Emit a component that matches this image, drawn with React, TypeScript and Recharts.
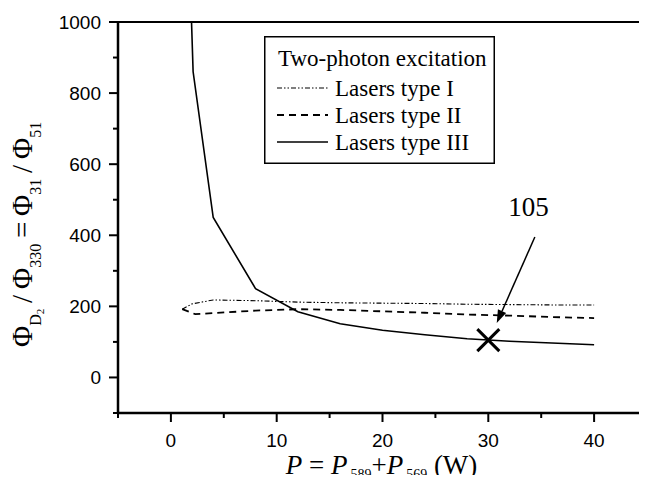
import React from 'react';
import {
  LineChart,
  Line,
  XAxis,
  YAxis,
  Legend,
  ReferenceLine,
  ReferenceDot,
} from 'recharts';

// Lasers type I (dash-dot-dot)
const powerI = [1.07, 2, 4, 8, 12, 16, 20, 24, 28, 32, 36, 40];
const ratioI = [192, 207, 218, 216, 212, 210, 209, 208, 206, 205, 204, 204];

// Lasers type II (dashed)
const powerII = [1.07, 2.3, 4, 8, 12, 16, 20, 24, 28, 32, 36, 40];
const ratioII = [192, 178, 181, 188, 192, 190, 186, 182, 177, 174, 170, 167];

// Lasers type III (solid)
const powerIII = [1.95, 2.1, 4, 8, 12, 16, 20, 24, 28, 32, 36, 40];
const ratioIII = [1000, 860, 450, 250, 185, 151, 133, 120, 109, 102, 97, 92];

const xTicks = [-5, 0, 5, 10, 15, 20, 25, 30, 35, 40, 45];
const yTicks = [-100, 0, 100, 200, 300, 400, 500, 600, 700, 800, 900, 1000];

const legendTitle = 'Two-photon excitation';
const seriesNames = ['Lasers type I', 'Lasers type II', 'Lasers type III'];

// marked point and its note
const markP = 30;
const markRatio = 105;
const arrowFrom = { x: 34.4, y: 395 };
const arrowTo = { x: 30.8, y: 153 };
const notePos = { x: 33.8, y: 455 };

const zip = (xs: number[], ys: number[]) => xs.map((x, i) => ({ x, y: ys[i] }));

const dataI = zip(powerI, ratioI);
const dataII = zip(powerII, ratioII);
const dataIII = zip(powerIII, ratioIII);

const serif = "'Liberation Serif', 'DejaVu Serif', serif";
const sans = "'Liberation Sans', Arial, sans-serif";

const styles = [
  { dash: '5 2 1.5 2 1.5 2', width: 1.1 },
  { dash: '7 5', width: 1.8 },
  { dash: undefined, width: 1.6 },
];

const YTick = (props: any) => {
  const { x, y, payload } = props;
  const v = payload.value;
  const major = v >= 0 && v % 200 === 0;
  return (
    <g>
      <line x1={x} x2={x - (major ? 9 : 5)} y1={y} y2={y} stroke="#000" strokeWidth={2} />
      {major && (
        <text x={x - 17} y={y} dy={7} textAnchor="end" fontSize={19} fontFamily={sans} fill="#000">
          {v}
        </text>
      )}
    </g>
  );
};

const XTick = (props: any) => {
  const { x, y, payload } = props;
  const v = payload.value;
  const major = v >= 0 && v <= 40 && v % 10 === 0;
  return (
    <g>
      <line x1={x} x2={x} y1={y} y2={y + (major ? 9 : 5)} stroke="#000" strokeWidth={2} />
      {major && (
        <text x={x} y={y + 34} textAnchor="middle" fontSize={19} fontFamily={sans} fill="#000">
          {v}
        </text>
      )}
    </g>
  );
};

const XTitle = (props: any) => {
  const vb = props.viewBox;
  return (
    <text
      x={vb.x + vb.width / 2 - 1}
      y={vb.y + 61}
      textAnchor="middle"
      fontSize={27}
      fontFamily={serif}
      fill="#000"
    >
      <tspan fontStyle="italic">P</tspan>
      <tspan> = </tspan>
      <tspan fontStyle="italic">P</tspan>
      <tspan dx={3} dy={5} fontSize={14}>589</tspan>
      <tspan dy={-5}>+</tspan>
      <tspan fontStyle="italic">P</tspan>
      <tspan dx={3} dy={5} fontSize={14}>569</tspan>
      <tspan dy={-5}> (W)</tspan>
    </text>
  );
};

const YTitle = (props: any) => {
  const vb = props.viewBox;
  const x = vb.x - 16;
  const y = vb.y + vb.height - 66;
  return (
    <text
      transform={`translate(${x},${y}) rotate(-90)`}
      textAnchor="start"
      fontSize={29}
      fontFamily={serif}
      fill="#000"
    >
      <tspan>Φ</tspan>
      <tspan dy={9} fontSize={16}>D</tspan>
      <tspan dy={3} fontSize={11}>2</tspan>
      <tspan dy={-12}>{'\u2009/\u2009Φ'}</tspan>
      <tspan dy={9} fontSize={16}>330</tspan>
      <tspan dy={-9}>{'\u2009=\u2009Φ'}</tspan>
      <tspan dy={9} fontSize={16}>31</tspan>
      <tspan dy={-9}>{'\u2009/\u2009Φ'}</tspan>
      <tspan dy={9} fontSize={16}>51</tspan>
    </text>
  );
};

const Cross = (props: any) => {
  const { cx, cy } = props;
  const s = 11;
  return (
    <g stroke="#000" strokeWidth={3}>
      <line x1={cx - s} y1={cy - s} x2={cx + s} y2={cy + s} />
      <line x1={cx - s} y1={cy + s} x2={cx + s} y2={cy - s} />
    </g>
  );
};

const Arrow = (props: any) => {
  const { x1, y1, x2, y2 } = props;
  const ang = Math.atan2(y2 - y1, x2 - x1);
  const len = 13;
  const w = 4.5;
  const bx = x2 - len * Math.cos(ang);
  const by = y2 - len * Math.sin(ang);
  const px = -Math.sin(ang) * w;
  const py = Math.cos(ang) * w;
  return (
    <g>
      <line x1={x1} y1={y1} x2={bx} y2={by} stroke="#000" strokeWidth={1.5} />
      <polygon points={`${x2},${y2} ${bx + px},${by + py} ${bx - px},${by - py}`} fill="#000" />
    </g>
  );
};

// legend drawn as svg so the serif face is used
const LegendBox = () => (
  <svg width={231} height={128} style={{ display: 'block' }}>
    <rect x={0.75} y={0.75} width={229.5} height={126.5} fill="#fff" stroke="#000" strokeWidth={1.5} />
    <text x={14} y={30} fontSize={23} fontFamily={serif} fill="#000">
      {legendTitle}
    </text>
    {seriesNames.map((n, i) => {
      const cy = 52 + i * 27;
      return (
        <g key={n}>
          <line
            x1={13}
            x2={64}
            y1={cy}
            y2={cy}
            stroke="#000"
            strokeWidth={styles[i].width}
            strokeDasharray={styles[i].dash}
          />
          <text x={71} y={cy + 8} fontSize={23} fontFamily={serif} fill="#000">
            {n}
          </text>
        </g>
      );
    })}
  </svg>
);

export default function App() {
  return (
    <div style={{ margin: -8, width: 647, height: 483, background: '#fff' }}>
      <LineChart width={647} height={483} margin={{ top: 22, right: 0, bottom: 0, left: 48 }}>
        <XAxis
          type="number"
          dataKey="x"
          domain={[-5, 45]}
          ticks={xTicks}
          interval={0}
          allowDataOverflow
          height={70}
          tickSize={0}
          tickMargin={0}
          tickLine={false}
          tick={<XTick />}
          axisLine={{ stroke: '#000', strokeWidth: 2.5 }}
          label={<XTitle />}
        />
        <YAxis
          type="number"
          domain={[-100, 1000]}
          ticks={yTicks}
          interval={0}
          allowDataOverflow
          width={70}
          tickSize={0}
          tickMargin={0}
          tickLine={false}
          tick={<YTick />}
          axisLine={{ stroke: '#000', strokeWidth: 2.5 }}
          label={<YTitle />}
        />
        <ReferenceLine y={1000} stroke="#000" strokeWidth={2} />
        <Line
          data={dataI}
          dataKey="y"
          type="linear"
          stroke="#000"
          strokeWidth={styles[0].width}
          strokeDasharray={styles[0].dash}
          dot={false}
          isAnimationActive={false}
        />
        <Line
          data={dataII}
          dataKey="y"
          type="linear"
          stroke="#000"
          strokeWidth={styles[1].width}
          strokeDasharray={styles[1].dash}
          dot={false}
          isAnimationActive={false}
        />
        <Line
          data={dataIII}
          dataKey="y"
          type="linear"
          stroke="#000"
          strokeWidth={styles[2].width}
          dot={false}
          isAnimationActive={false}
        />
        <ReferenceDot x={markP} y={markRatio} r={11} shape={<Cross />} />
        <ReferenceLine segment={[arrowFrom, arrowTo]} shape={<Arrow />} />
        <ReferenceDot
          x={notePos.x}
          y={notePos.y}
          r={0}
          shape={(p: any) => (
            <text x={p.cx} y={p.cy} textAnchor="middle" fontSize={27} fontFamily={serif} fill="#000">
              {String(markRatio)}
            </text>
          )}
        />
        <Legend
          layout="vertical"
          align="center"
          verticalAlign="middle"
          content={<LegendBox />}
          wrapperStyle={{ left: 264, top: 36, width: 231, height: 128 }}
        />
      </LineChart>
    </div>
  );
}
